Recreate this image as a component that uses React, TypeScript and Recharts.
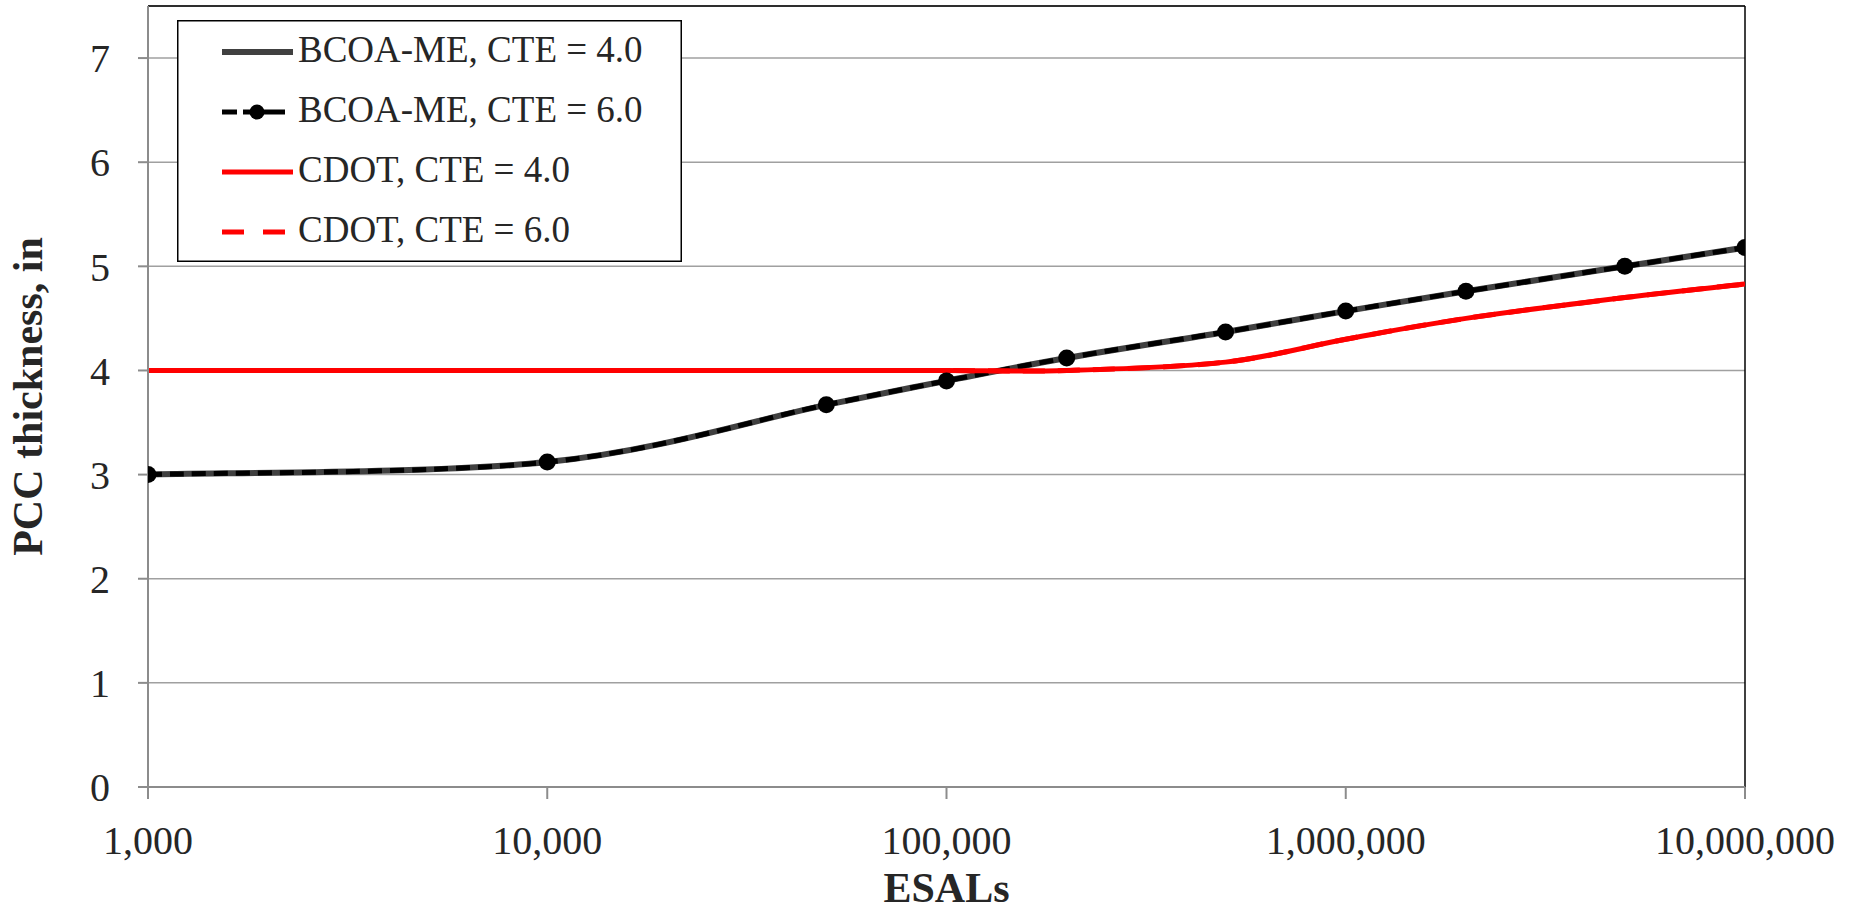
import { LineChart, Line, XAxis, YAxis, CartesianGrid, Legend, ReferenceLine, Label } from 'recharts';

const esals = [1000, 10000, 50000, 100000, 200000, 500000, 1000000, 2000000, 5000000, 10000000];
const bcoaCte4 = [3.0, 3.12, 3.67, 3.9, 4.12, 4.37, 4.57, 4.76, 5.0, 5.18];
const bcoaCte6 = [3.0, 3.12, 3.67, 3.9, 4.12, 4.37, 4.57, 4.76, 5.0, 5.18];
const cdotCte4 = [4.0, 4.0, 4.0, 4.0, 4.0, 4.08, 4.3, 4.5, 4.7, 4.83];
const cdotCte6 = [4.0, 4.0, 4.0, 4.0, 4.0, 4.08, 4.3, 4.5, 4.7, 4.83];

const xTicks = [1000, 10000, 100000, 1000000, 10000000];
const yTicks = [0, 1, 2, 3, 4, 5, 6, 7];

const data = esals.map((x, i) => ({
  esals: x,
  bcoa4: bcoaCte4[i],
  bcoa6: bcoaCte6[i],
  cdot4: cdotCte4[i],
  cdot6: cdotCte6[i],
}));

const series = [
  { key: 'bcoa4', name: 'BCOA-ME, CTE = 4.0', color: '#404040', width: 6, dash: undefined, dot: false },
  { key: 'bcoa6', name: 'BCOA-ME, CTE = 6.0', color: '#000000', width: 5, dash: '14 8', dot: true },
  { key: 'cdot4', name: 'CDOT, CTE = 4.0', color: '#FF0000', width: 5, dash: undefined, dot: false },
  { key: 'cdot6', name: 'CDOT, CTE = 6.0', color: '#FF0000', width: 5, dash: '22 13', dot: false },
];

const FONT = '"Liberation Serif", "Times New Roman", serif';
const TEXT = '#262626';

// spreadsheet-style smoothing: catmull-rom segments as cubic beziers
function smoothCurve(context: any) {
  let pts: number[][] = [];
  return {
    areaStart() {},
    areaEnd() {},
    lineStart() {
      pts = [];
    },
    lineEnd() {
      const n = pts.length;
      if (!n) return;
      context.moveTo(pts[0][0], pts[0][1]);
      for (let i = 0; i < n - 1; i++) {
        const p0 = pts[Math.max(i - 1, 0)];
        const p1 = pts[i];
        const p2 = pts[i + 1];
        const p3 = pts[Math.min(i + 2, n - 1)];
        context.bezierCurveTo(
          p1[0] + (p2[0] - p0[0]) / 6,
          p1[1] + (p2[1] - p0[1]) / 6,
          p2[0] - (p3[0] - p1[0]) / 6,
          p2[1] - (p3[1] - p1[1]) / 6,
          p2[0],
          p2[1],
        );
      }
    },
    point(x: number, y: number) {
      pts.push([+x, +y]);
    },
  };
}

function LegendBox() {
  return (
    <svg width={505} height={242} style={{ display: 'block' }}>
      <rect x={0.75} y={0.75} width={503.5} height={240.5} fill="#fff" stroke="#000" strokeWidth={1.5} />
      {series.map((s, i) => {
        const y = 32 + i * 60;
        return (
          <g key={s.key}>
            {s.key === 'bcoa4' || s.key === 'cdot4' ? (
              <line x1={45} x2={116} y1={y} y2={y} stroke={s.color} strokeWidth={s.width} />
            ) : null}
            {s.key === 'bcoa6' ? (
              <g>
                <line x1={45} x2={60} y1={y} y2={y} stroke="#000" strokeWidth={5} />
                <line x1={66} x2={108} y1={y} y2={y} stroke="#000" strokeWidth={5} />
                <circle cx={80} cy={y} r={7.5} fill="#000" />
              </g>
            ) : null}
            {s.key === 'cdot6' ? (
              <line x1={45} x2={108} y1={y} y2={y} stroke={s.color} strokeWidth={5} strokeDasharray="22 19" />
            ) : null}
            <text x={121} y={y + 10} fontSize={37} fontFamily={FONT} fill={TEXT}>
              {s.name}
            </text>
          </g>
        );
      })}
    </svg>
  );
}

export default function App() {
  return (
    <div style={{ position: 'absolute', left: 0, top: 0 }}>
      <LineChart
        width={1858}
        height={914}
        data={data}
        margin={{ top: 6, right: 113, left: 0, bottom: 0 }}
        style={{ fontFamily: FONT }}
      >
        <CartesianGrid vertical={false} stroke="#A0A0A0" strokeWidth={1.5} />
        <ReferenceLine y={7.5} stroke="#000" strokeWidth={1.5} />
        <ReferenceLine x={10000000} stroke="#000" strokeWidth={1.5} />
        <XAxis
          dataKey="esals"
          type="number"
          scale="log"
          domain={[1000, 10000000]}
          ticks={xTicks}
          allowDataOverflow
          height={127}
          tickSize={12}
          tickMargin={27}
          stroke="#8C8C8C"
          strokeWidth={2}
          tick={{ fontSize: 40, fill: TEXT, fontFamily: FONT }}
          tickFormatter={(v: number) => v.toLocaleString('en-US')}
        >
          <Label
            content={({ viewBox }: any) => (
              <text
                x={viewBox.x + viewBox.width / 2}
                y={902}
                textAnchor="middle"
                fontSize={42}
                fontWeight="bold"
                fontFamily={FONT}
                fill={TEXT}
              >
                ESALs
              </text>
            )}
          />
        </XAxis>
        <YAxis
          type="number"
          domain={[0, 7.5]}
          ticks={yTicks}
          width={148}
          tickSize={10}
          tickMargin={28}
          stroke="#8C8C8C"
          strokeWidth={2}
          tick={{ fontSize: 40, fill: TEXT, fontFamily: FONT }}
        >
          <Label
            content={({ viewBox }: any) => {
              const cx = 28;
              const cy = viewBox.y + viewBox.height / 2;
              return (
                <text
                  x={cx}
                  y={cy}
                  transform={`rotate(-90, ${cx}, ${cy})`}
                  textAnchor="middle"
                  dominantBaseline="central"
                  fontSize={42}
                  fontWeight="bold"
                  fontFamily={FONT}
                  fill={TEXT}
                >
                  PCC thickness, in
                </text>
              );
            }}
          />
        </YAxis>
        {/* middle/center keeps the legend from reserving space in the plot offset */}
        <Legend
          layout="horizontal"
          verticalAlign="middle"
          align="center"
          content={() => <LegendBox />}
          wrapperStyle={{ left: 177, top: 20, width: 505, height: 242 }}
        />
        {series.map((s) => (
          <Line
            key={s.key}
            dataKey={s.key}
            name={s.name}
            type={smoothCurve as any}
            stroke={s.color}
            strokeWidth={s.width}
            strokeDasharray={s.dash}
            dot={s.dot ? { r: 8.5, fill: '#000', stroke: 'none', strokeDasharray: 'none' } : false}
            activeDot={false}
            isAnimationActive={false}
          />
        ))}
      </LineChart>
    </div>
  );
}
